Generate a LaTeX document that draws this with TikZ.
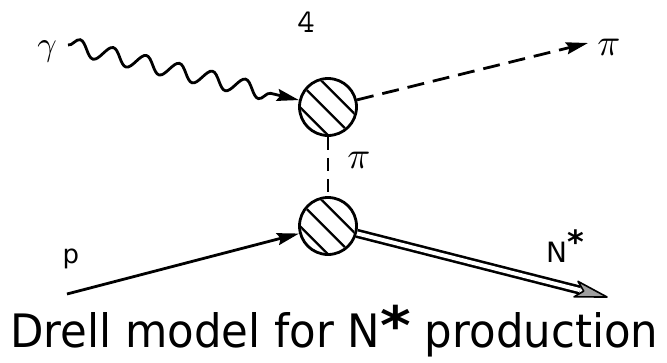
\documentclass[tikz,border=0pt]{standalone}
\usepackage{fontspec}
\newfontfamily\capfont{DejaVu Sans}
\usetikzlibrary{arrows.meta,decorations.pathmorphing,calc}
\begin{document}
\begin{tikzpicture}[x=1pt,y=-1pt,
  lw/.style={line width=2.8pt},
  blob/.style={circle,draw,line width=2.8pt,minimum size=57pt,inner sep=0pt},
  hatch/.style={line width=2.2pt},
  tip/.style={-{Stealth[length=22pt,width=12pt,inset=3pt]}},
  photon/.style={lw,tip,decorate,decoration={snake,amplitude=8pt,segment length=34pt,post length=22pt}},
  pion/.style={lw,dash pattern=on 17pt off 9pt},
  lab/.style={inner sep=0pt}]
\useasboundingbox (0,0) rectangle (667,362);
\node[blob] (b1) at (328,107) {};
\node[blob] (b2) at (328,226) {};
\coordinate (gs) at (68,45);
\coordinate (pe) at (588,43);
\coordinate (ps) at (67,294);
\coordinate (ne) at (607,297);
% hatching
\foreach \b in {b1,b2}{
  \begin{scope}
    \clip (\b.center) circle (27pt);
    \foreach \d in {14,-3,-20}{
      \draw[hatch] ($(\b.center)+(\d*0.707,-\d*0.707)+(-40,-40)$) -- ++(80,80);
    }
  \end{scope}
}
\draw[photon] (gs) -- (b1);
\draw[pion,tip] (b1) -- (pe);
\draw[pion,dash pattern=on 13pt off 8pt] (b1) -- (b2);
\draw[lw,tip] (ps) -- (b2);
\coordinate (nb) at ($(ne)!32pt!(b2)$);
\draw[line width=2.6pt,double=white,double distance=4pt] (b2) -- ($(ne)!28pt!(b2)$);
\filldraw[fill=gray!75,line width=1.6pt,line join=round] (ne) -- ($(nb)!8pt!90:(ne)$) -- ($(ne)!24pt!(b2)$) -- ($(nb)!8pt!-90:(ne)$) -- cycle;
% labels
\node[lab,scale=3.4] (g) at (47,51) {$\gamma$};
\node[lab,scale=3.8] (pi1) at (609,47) {$\pi$};
\node[lab,scale=3.8] (pi2) at (359,160) {$\pi$};
\node[lab,scale=3.3] (four) at (306,22) {\ttfamily 4};
\node[lab,font=\fontsize{26}{28}\capfont] (p) at (71,259) {p};
\node[lab,font=\fontsize{28}{30}\capfont,anchor=base west] (n) at (546,262) {N\raisebox{9pt}{\fontsize{32}{32}\selectfont\bfseries*}};
\node[lab,font=\fontsize{46}{50}\capfont,anchor=base west] (cap) at (10,347) {\resizebox{648pt}{35pt}{Drell model for N\smash{\raisebox{3pt}{\scalebox{1.35}[1.15]{\fontsize{46}{46}\selectfont\bfseries*}}} production}};
\end{tikzpicture}
\end{document}
